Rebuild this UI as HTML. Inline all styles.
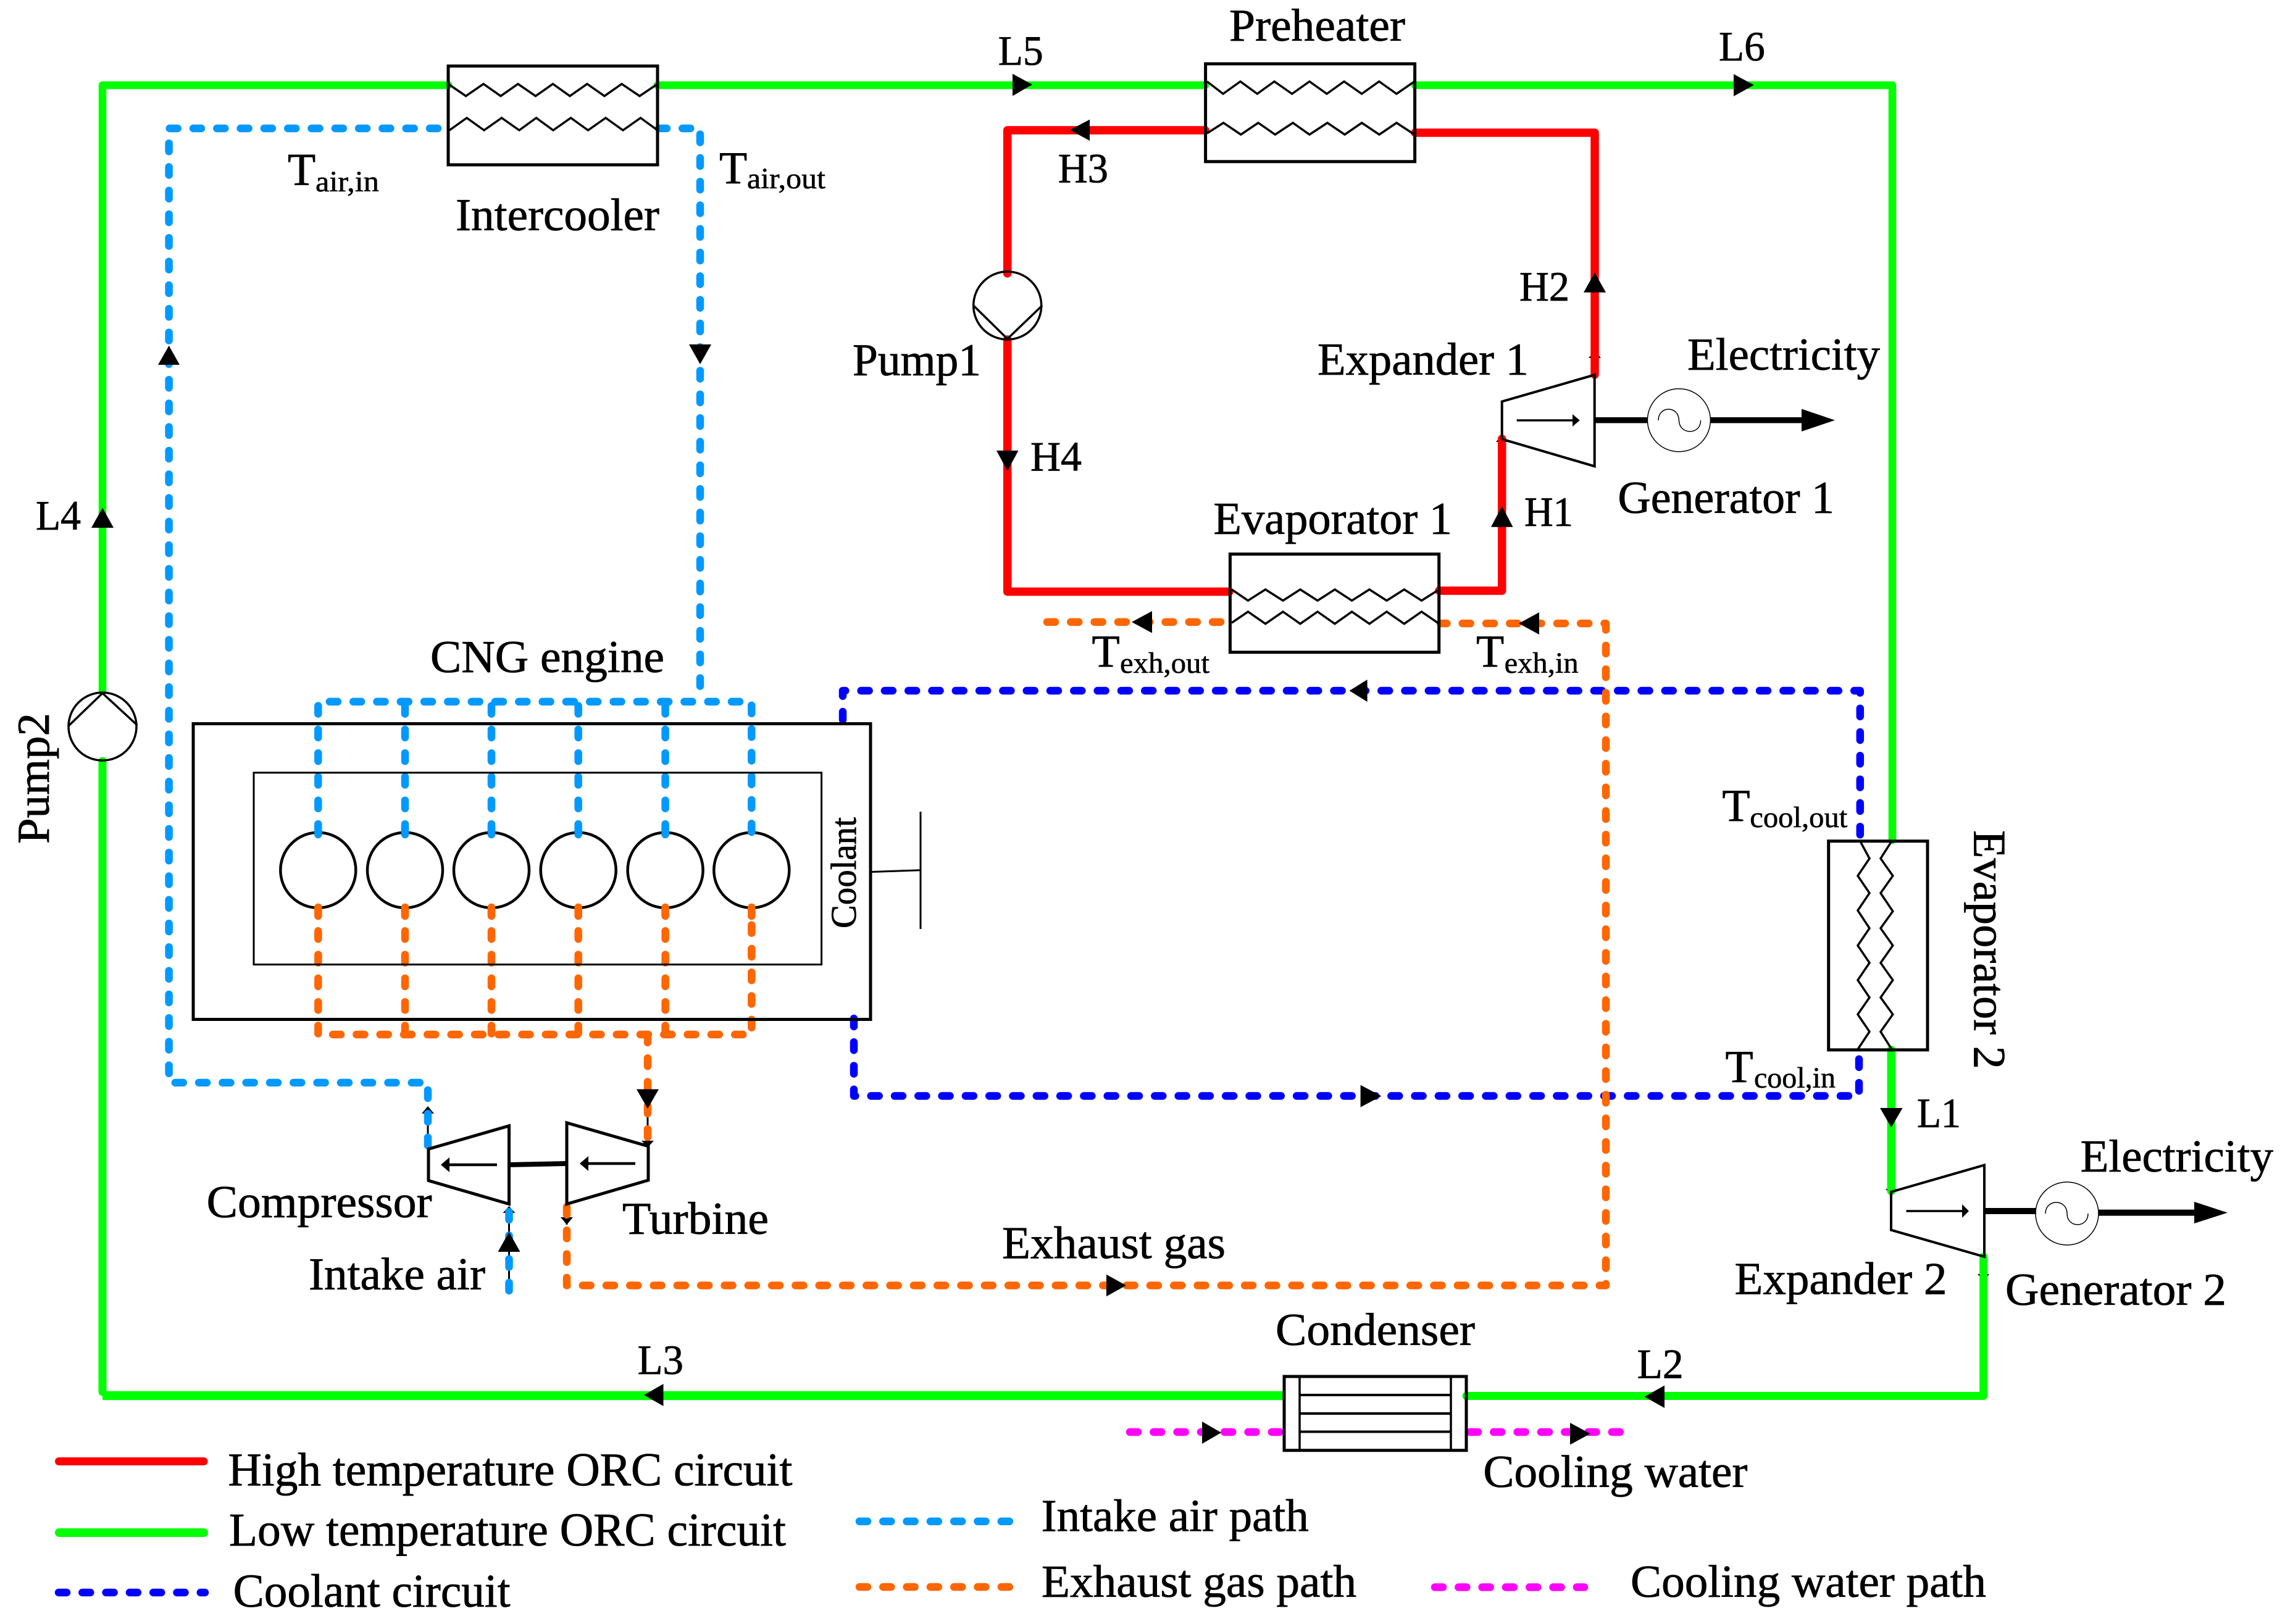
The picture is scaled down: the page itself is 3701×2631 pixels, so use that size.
<!DOCTYPE html>
<html>
<head>
<meta charset="utf-8">
<style>
html,body{margin:0;padding:0;background:#fff;width:3701px;height:2631px;overflow:hidden}
svg{display:block;position:absolute;left:0;top:0}
text{font-family:"Liberation Serif",serif;fill:#000;font-size:74px;stroke:#000;stroke-width:.8px}
.sub{font-size:48px;stroke-width:.6px}
.lbl{font-size:68px}
.leg{font-size:76px}
.solid{fill:none;stroke-linecap:round;stroke-linejoin:round}
.dash{fill:none;stroke-width:12.5;stroke-linecap:round;stroke-linejoin:round;stroke-dasharray:13 25.3}
.air{stroke:#0099ff}.exh{stroke:#ff6600}.cool{stroke:#0000ff}.wat{stroke:#ff00ff}
.k{fill:none;stroke:#000;stroke-width:5;stroke-linejoin:miter}
.z{fill:none;stroke:#000;stroke-width:3.5;stroke-linejoin:miter}
</style>
</head>
<body>
<svg width="3701" height="2631" viewBox="0 0 3701 2631" xmlns="http://www.w3.org/2000/svg">
<rect width="3701" height="2631" fill="#fff"/>

<!-- tiny arrowheads beneath pipes -->
<g fill="#000">
<polygon points="2573,580 2593,580 2583,568"/>
<polygon points="2423,716 2442,716 2432.7,704"/>
<polygon points="3054,1926 3073,1926 3063.5,1938"/>
<polygon points="3203,2064 3222,2064 3212.6,2076"/>
<polygon points="683,1804 703,1804 693,1792"/>
<polygon points="814.5,1965 834.5,1965 824.5,1954"/>
<polygon points="1039,1848 1059,1848 1049,1859"/>
<polygon points="908,1972 928,1972 918,1984"/>
</g>
<line x1="693" y1="1795" x2="693" y2="1861" stroke="#000" stroke-width="3"/>
<line x1="824.5" y1="1955" x2="824.5" y2="2088" stroke="#000" stroke-width="3"/>
<line x1="918" y1="1952" x2="918" y2="1984" stroke="#000" stroke-width="3"/>
<line x1="1049" y1="1800" x2="1049" y2="1858" stroke="#000" stroke-width="3"/>

<!-- low temperature circuit -->
<g class="solid" stroke="#00ff00">
<path d="M3063.3 1701 V1929.6" stroke-width="13.5"/>
<path d="M3065 1361 V138 H2292" stroke-width="12.5"/>
<path d="M1952 138 H1065" stroke-width="12.5"/>
<path d="M726 138 H166 V1120" stroke-width="12.5"/>
<path d="M166 1233 V2255" stroke-width="13"/>
<path d="M166 2261 H2079" stroke-width="14.5" stroke-linecap="butt"/>
<path d="M3212.6 2036 V2261.5 H2375" stroke-width="13"/>
</g>

<!-- high temperature circuit -->
<g class="solid" stroke="#ff0000" stroke-width="13.5">
<path d="M1952 211 H1631.7 V443"/>
<path d="M1631.7 550 V958.5 H1991"/>
<path d="M2292 215 H2583 V607"/>
<path d="M2331 957 H2432.7 V711"/>
</g>

<!-- coolant -->
<g class="dash cool">
<path d="M1365 1166 V1119 H3012.8 V1361"/>
<path d="M1383 1650 V1775.5 H3011 V1701"/>
</g>

<!-- intake air -->
<g class="dash air">
<path d="M709 208 H273.6 V1754 H693 V1861"/>
<path d="M1067 208 H1134 V1128"/>
<path d="M515.3 1348 V1136.8 H1217.3 V1348"/>
<path d="M656 1348 V1136.8"/>
<path d="M796 1348 V1136.8"/>
<path d="M936.7 1348 V1136.8"/>
<path d="M1077.6 1348 V1136.8"/>
<path d="M824.5 2091 V1950"/>
</g>

<!-- exhaust -->
<g class="dash exh">
<path d="M515.3 1470 V1676 H1217.3 V1470"/>
<path d="M656 1470 V1676"/>
<path d="M796 1470 V1676"/>
<path d="M936.7 1470 V1676"/>
<path d="M1077.6 1470 V1676"/>
<path d="M1049 1676 V1855"/>
<path d="M918 1955 V2082.5 H2601 V1010 H2333"/>
<path d="M1696 1007.7 H1985"/>
</g>

<!-- cooling water -->
<g class="dash wat">
<path d="M1830 2320 H2076"/>
<path d="M2381 2320 H2624"/>
</g>

<!-- heat exchangers -->
<rect class="k" x="726" y="107" width="339" height="160"/>
<polyline class="z" points="726,136 754.6,155.6 783,136 811,155.6 839,136 867.5,155.6 895.5,136 923,155.6 951,136 979,155.6 1007,136 1036,155.6 1065,136"/>
<polyline class="z" points="728,211 756,191 784,211 812.5,191 841,211 868.5,191 896,211 924.5,191 952.5,211 981,191 1009,211 1037.5,191 1065,211"/>

<rect class="k" x="1952.6" y="103.4" width="339" height="158.4"/>
<polyline class="z" points="1955,132 1981,152 2009,132 2036.3,152 2064,132 2092.7,152 2121,132 2149,152 2177,132 2205.6,152 2233.7,132 2262,152 2291,132"/>
<polyline class="z" points="1955,216 1981.6,199 2009.8,218 2038,199 2065.3,218 2094,199 2121,218 2150,199 2178,218 2205.7,199 2234,218 2262,199 2291,218"/>

<rect class="k" x="1992.4" y="897.7" width="338.3" height="159"/>
<polyline class="z" points="1995,955 2021.4,973 2049.6,955 2078,973 2106,955 2134,973 2162,955 2189.6,973 2218,955 2246,973 2274.4,955 2302.5,973 2331,955"/>
<polyline class="z" points="1995,1009 2021.4,991 2049.6,1010.6 2078,991 2106,1010.6 2134,991 2162,1010.6 2189.6,991 2218,1010.6 2246,991 2274.4,1010.6 2302.5,991 2331,1010.6"/>

<rect class="k" x="2961.7" y="1362.7" width="160.3" height="338.2"/>
<polyline class="z" points="3012.8,1362.7 3028,1390.8 3009,1418.9 3028,1446.9 3009,1475 3028,1503.8 3009,1531.8 3028,1559.9 3009,1587.9 3028,1616 3009,1643.4 3028,1671.4 3009,1700"/>
<polyline class="z" points="3064,1362.7 3046,1390.8 3065.8,1418.9 3046,1446.9 3065.8,1476.4 3046,1503.8 3065.8,1531.8 3046,1559.9 3065.8,1587.9 3046,1616 3065.8,1643.4 3046,1671.4 3064,1700"/>

<!-- condenser -->
<rect class="k" x="2080" y="2230" width="295" height="119.7"/>
<line x1="2105" y1="2230" x2="2105" y2="2350" stroke="#000" stroke-width="3.5"/>
<line x1="2350" y1="2230" x2="2350" y2="2350" stroke="#000" stroke-width="3.5"/>
<line x1="2105" y1="2260" x2="2350" y2="2260" stroke="#000" stroke-width="4"/>
<line x1="2105" y1="2290" x2="2350" y2="2290" stroke="#000" stroke-width="4"/>
<line x1="2105" y1="2319.5" x2="2350" y2="2319.5" stroke="#000" stroke-width="4"/>

<!-- pumps -->
<circle cx="1631.7" cy="495" r="55" fill="none" stroke="#000" stroke-width="3.5"/>
<polyline class="z" points="1576.7,495 1631.7,549 1688,495"/>
<circle cx="166" cy="1177" r="55" fill="none" stroke="#000" stroke-width="3.5"/>
<polyline class="z" points="110,1177 166,1123 222.4,1175"/>

<!-- engine -->
<rect x="313" y="1172.5" width="1097" height="479" fill="none" stroke="#000" stroke-width="5"/>
<rect x="411" y="1251.8" width="919.6" height="310.8" fill="none" stroke="#000" stroke-width="3"/>
<g fill="none" stroke="#000" stroke-width="4.5">
<circle cx="515.3" cy="1409.7" r="61"/>
<circle cx="656" cy="1409.7" r="61"/>
<circle cx="796" cy="1409.7" r="61"/>
<circle cx="936.7" cy="1409.7" r="61"/>
<circle cx="1077.6" cy="1409.7" r="61"/>
<circle cx="1217.3" cy="1409.7" r="61"/>
</g>
<g class="dash air">
<path d="M515.3 1340 V1352" style="stroke-dasharray:none"/>
<path d="M656 1340 V1352" style="stroke-dasharray:none"/>
<path d="M796 1340 V1352" style="stroke-dasharray:none"/>
<path d="M936.7 1340 V1352" style="stroke-dasharray:none"/>
<path d="M1077.6 1340 V1352" style="stroke-dasharray:none"/>
<path d="M1217.3 1340 V1348" style="stroke-dasharray:none"/>
</g>
<g class="dash exh">
<path d="M515.3 1470 V1484" style="stroke-dasharray:none"/>
<path d="M656 1470 V1484" style="stroke-dasharray:none"/>
<path d="M796 1470 V1484" style="stroke-dasharray:none"/>
<path d="M936.7 1470 V1484" style="stroke-dasharray:none"/>
<path d="M1077.6 1470 V1484" style="stroke-dasharray:none"/>
<path d="M1217.3 1470 V1484" style="stroke-dasharray:none"/>
</g>
<polyline points="1412,1412.5 1491,1409.7" fill="none" stroke="#000" stroke-width="3"/>
<line x1="1491" y1="1315" x2="1491" y2="1505" stroke="#000" stroke-width="3"/>

<!-- compressor + turbine -->
<polygon points="694,1861.5 824.5,1824 824.5,1950.6 694,1912.6" fill="none" stroke="#000" stroke-width="5"/>
<polygon points="918,1819 1050,1857 1050,1912 918,1950.6" fill="none" stroke="#000" stroke-width="5"/>
<line x1="824.5" y1="1887" x2="918" y2="1885" stroke="#000" stroke-width="8"/>
<line x1="805" y1="1887" x2="726" y2="1887" stroke="#000" stroke-width="4.5"/>
<polygon points="714,1887 728,1875 728,1899"/>
<line x1="1029" y1="1885" x2="950" y2="1885" stroke="#000" stroke-width="4.5"/>
<polygon points="939,1885 953,1873 953,1897"/>

<!-- expanders and generators -->
<polygon points="2432.7,650.5 2582.7,607.3 2582.7,755.4 2432.7,711.4" fill="none" stroke="#000" stroke-width="4"/>
<line x1="2456.7" y1="681" x2="2550" y2="681" stroke="#000" stroke-width="3.5"/>
<polygon points="2558.7,681 2547,671 2547,691"/>
<line x1="2583" y1="680.8" x2="2669" y2="680.8" stroke="#000" stroke-width="9.5"/>
<line x1="2770" y1="680.8" x2="2920" y2="680.8" stroke="#000" stroke-width="9.5"/>
<polygon points="2972,680.8 2918,662.5 2918,699"/>
<circle cx="2719.4" cy="680.8" r="51" fill="none" stroke="#000" stroke-width="1.5"/>
<path d="M2686 681 C2686 657 2719 657 2719.4 681 C2720 705 2754.6 705 2754.6 681" fill="none" stroke="#000" stroke-width="1.5"/>

<polygon points="3063,1931 3214,1887.5 3214,2036 3063,1992.7" fill="none" stroke="#000" stroke-width="4"/>
<line x1="3087.5" y1="1962" x2="3182" y2="1962" stroke="#000" stroke-width="3.5"/>
<polygon points="3189,1962 3178,1951 3178,1973"/>
<line x1="3214" y1="1962" x2="3298" y2="1962" stroke="#000" stroke-width="10"/>
<line x1="3399" y1="1964.6" x2="3556" y2="1964.6" stroke="#000" stroke-width="10"/>
<polygon points="3608,1964.6 3554,1947 3554,1982"/>
<circle cx="3348" cy="1966" r="51" fill="none" stroke="#000" stroke-width="1.5"/>
<path d="M3313 1966 C3313 1942 3348 1942 3348 1966 C3348 1990 3382 1990 3382 1966" fill="none" stroke="#000" stroke-width="1.5"/>

<!-- flow arrowheads -->
<g fill="#000">
<polygon points="166,822.6 148,855 184,855"/>
<polygon points="273.6,560 256,591 291,591"/>
<polygon points="1134,590 1116,558 1152,558"/>
<polygon points="1672,137 1640,119.5 1640,155.5"/>
<polygon points="2840.8,137.8 2808,120 2808,156"/>
<polygon points="1733,210.5 1765,193.6 1765,228"/>
<polygon points="1631.7,763 1614,730 1649.5,730"/>
<polygon points="2432.7,820 2415,853.7 2450.5,853.7"/>
<polygon points="2583,441.5 2565,473.8 2601,473.8"/>
<polygon points="1833,1007.7 1866,990 1866,1025.5"/>
<polygon points="2460,1010 2493,992 2493,1028"/>
<polygon points="2185.6,1119 2214.6,1101 2214.6,1137"/>
<polygon points="2237.5,1775.7 2203.6,1757.7 2203.6,1793.7"/>
<polygon points="1824,2082.5 1792,2064.8 1792,2100.2"/>
<polygon points="3063.3,1826.5 3045,1795 3081.6,1795"/>
<polygon points="1043,2260 1074.5,2242 1074.5,2278"/>
<polygon points="2663.5,2262.8 2696,2244.5 2696,2281"/>
<polygon points="1978,2321 1947,2303 1947,2339"/>
<polygon points="2575.7,2322.7 2543,2305 2543,2340.5"/>
<polygon points="1049,1796 1031,1764.6 1067,1764.6"/>
<polygon points="824.5,1996 806.5,2028 842.5,2028"/>
</g>

<!-- legend lines -->
<g class="solid">
<line x1="95.5" y1="2367.5" x2="330" y2="2367.5" stroke="#ff0000" stroke-width="13"/>
<line x1="96" y1="2483" x2="330" y2="2483" stroke="#00ff00" stroke-width="14"/>
</g>
<g class="dash">
<line class="cool" x1="95" y1="2580" x2="332" y2="2580"/>
<line class="air" x1="1392" y1="2464.7" x2="1636" y2="2464.7"/>
<line class="exh" x1="1392" y1="2571" x2="1636" y2="2571"/>
<line class="wat" x1="2324" y1="2571.4" x2="2566" y2="2571.4"/>
</g>

<!-- labels -->
<text x="738" y="373" textLength="330" lengthAdjust="spacingAndGlyphs">Intercooler</text>
<text x="1991" y="66" textLength="285" lengthAdjust="spacingAndGlyphs">Preheater</text>
<text x="2134" y="607" textLength="342" lengthAdjust="spacingAndGlyphs">Expander 1</text>
<text x="1381" y="608" textLength="208" lengthAdjust="spacingAndGlyphs">Pump1</text>
<text x="1965.5" y="865" textLength="386.5" lengthAdjust="spacingAndGlyphs">Evaporator 1</text>
<text x="2733" y="599" textLength="312" lengthAdjust="spacingAndGlyphs">Electricity</text>
<text x="2620.4" y="831" textLength="350.6" lengthAdjust="spacingAndGlyphs">Generator 1</text>
<text x="697" y="1089" textLength="379" lengthAdjust="spacingAndGlyphs">CNG engine</text>
<text x="334.7" y="1972" textLength="365" lengthAdjust="spacingAndGlyphs">Compressor</text>
<text x="1008" y="1999" textLength="237" lengthAdjust="spacingAndGlyphs">Turbine</text>
<text x="500" y="2089" textLength="286" lengthAdjust="spacingAndGlyphs">Intake air</text>
<text x="1623" y="2038.5" textLength="362" lengthAdjust="spacingAndGlyphs">Exhaust gas</text>
<text x="2809.5" y="2096.5" textLength="344" lengthAdjust="spacingAndGlyphs">Expander 2</text>
<text x="3248" y="2114" textLength="358" lengthAdjust="spacingAndGlyphs">Generator 2</text>
<text x="3369.6" y="1898" textLength="312.4" lengthAdjust="spacingAndGlyphs">Electricity</text>
<text x="2066" y="2179" textLength="323" lengthAdjust="spacingAndGlyphs">Condenser</text>
<text x="2402.4" y="2409" textLength="428" lengthAdjust="spacingAndGlyphs">Cooling water</text>

<text class="lbl" x="1616.7" y="105" textLength="73" lengthAdjust="spacingAndGlyphs">L5</text>
<text class="lbl" x="2784" y="98" textLength="74.7" lengthAdjust="spacingAndGlyphs">L6</text>
<text class="lbl" x="58" y="858" textLength="73" lengthAdjust="spacingAndGlyphs">L4</text>
<text class="lbl" x="1032.6" y="2226" textLength="74.4" lengthAdjust="spacingAndGlyphs">L3</text>
<text class="lbl" x="2651.6" y="2232.6" textLength="75" lengthAdjust="spacingAndGlyphs">L2</text>
<text class="lbl" x="3105" y="1826" textLength="71" lengthAdjust="spacingAndGlyphs">L1</text>
<text class="lbl" x="1713.8" y="295.6" textLength="81.2" lengthAdjust="spacingAndGlyphs">H3</text>
<text class="lbl" x="2461" y="487" textLength="81" lengthAdjust="spacingAndGlyphs">H2</text>
<text class="lbl" x="1669" y="762.7" textLength="83" lengthAdjust="spacingAndGlyphs">H4</text>
<text class="lbl" x="2469" y="852" textLength="79" lengthAdjust="spacingAndGlyphs">H1</text>

<text x="466" y="299.6">T</text><text class="sub" x="511" y="310" textLength="103" lengthAdjust="spacingAndGlyphs">air,in</text>
<text x="1165" y="297">T</text><text class="sub" x="1210" y="305" textLength="127" lengthAdjust="spacingAndGlyphs">air,out</text>
<text x="1768.5" y="1080">T</text><text class="sub" x="1814" y="1090" textLength="145" lengthAdjust="spacingAndGlyphs">exh,out</text>
<text x="2391" y="1080">T</text><text class="sub" x="2436.6" y="1090" textLength="120" lengthAdjust="spacingAndGlyphs">exh,in</text>
<text x="2789.4" y="1329.8">T</text><text class="sub" x="2834.3" y="1340" textLength="158" lengthAdjust="spacingAndGlyphs">cool,out</text>
<text x="2794.5" y="1752.8">T</text><text class="sub" x="2841" y="1762" textLength="132" lengthAdjust="spacingAndGlyphs">cool,in</text>

<text transform="translate(1386,1504) rotate(-90)" style="font-size:58px" textLength="180" lengthAdjust="spacingAndGlyphs">Coolant</text>
<text transform="translate(79,1367) rotate(-90)" textLength="212" lengthAdjust="spacingAndGlyphs">Pump2</text>
<text transform="translate(3197.5,1345) rotate(90)" textLength="387" lengthAdjust="spacingAndGlyphs">Evaporator 2</text>

<text class="leg" x="369.4" y="2406.5" textLength="914" lengthAdjust="spacingAndGlyphs">High temperature ORC circuit</text>
<text class="leg" x="371" y="2504" textLength="902" lengthAdjust="spacingAndGlyphs">Low temperature ORC circuit</text>
<text class="leg" x="377.6" y="2603" textLength="449" lengthAdjust="spacingAndGlyphs">Coolant circuit</text>
<text x="1686.7" y="2480.5" textLength="433" lengthAdjust="spacingAndGlyphs">Intake air path</text>
<text x="1687" y="2587" textLength="510" lengthAdjust="spacingAndGlyphs">Exhaust gas path</text>
<text x="2641" y="2587" textLength="576" lengthAdjust="spacingAndGlyphs">Cooling water path</text>
</svg>
</body>
</html>
